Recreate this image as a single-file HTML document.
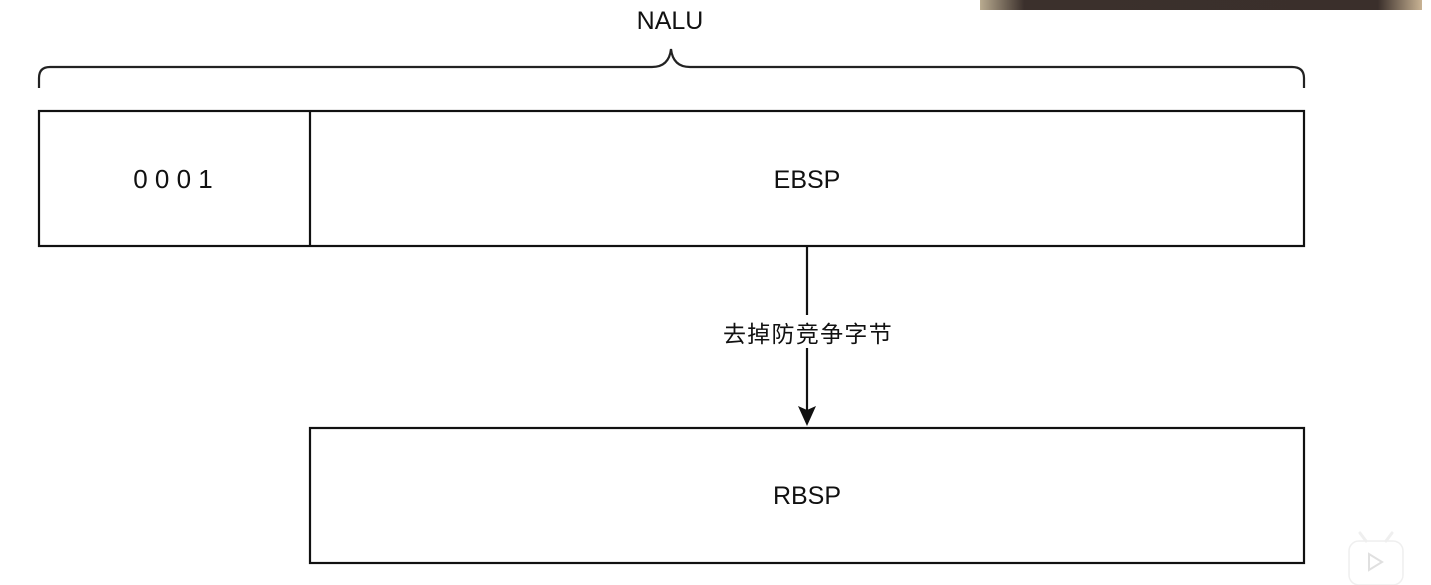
<!DOCTYPE html>
<html><head><meta charset="utf-8"><style>
html,body{margin:0;padding:0;background:#fff;width:1431px;height:585px;overflow:hidden}
svg text{font-family:"Liberation Sans","Noto Sans CJK SC",sans-serif;fill:#111}
</style></head><body>
<svg width="1431" height="585" viewBox="0 0 1431 585" xmlns="http://www.w3.org/2000/svg">
<defs>
<linearGradient id="g" x1="0" x2="1">
<stop offset="0" stop-color="#b9ab90"/><stop offset="0.1" stop-color="#3b302c"/><stop offset="0.9" stop-color="#3a2f2b"/><stop offset="1" stop-color="#c9b394"/>
</linearGradient>
</defs>
<rect x="980" y="0" width="442" height="10" fill="url(#g)"/>
<text x="670" y="29" font-size="25" text-anchor="middle">NALU</text>
<path d="M39,88 V78 Q39,67 50,67 H652 Q669,67 671,49 Q673,67 690,67 H1292 Q1304,67 1304,78 V88" fill="none" stroke="#222" stroke-width="2.2"/>
<rect x="39" y="111" width="1265" height="135" fill="none" stroke="#111" stroke-width="2.2"/>
<line x1="310" y1="111" x2="310" y2="246" stroke="#111" stroke-width="2.2"/>
<text x="173" y="188" font-size="26" text-anchor="middle">0 0 0 1</text>
<text x="807" y="188" font-size="25" text-anchor="middle">EBSP</text>
<line x1="807" y1="246" x2="807" y2="315" stroke="#111" stroke-width="2.2"/>
<line x1="807" y1="348" x2="807" y2="410" stroke="#111" stroke-width="2.2"/>
<path d="M798,406 L807,426 L816,406 L807,410 Z" fill="#111"/>
<text x="808" y="342" font-size="23" letter-spacing="1.3" text-anchor="middle">去掉防竞争字节</text>
<rect x="310" y="428" width="994" height="135" fill="none" stroke="#111" stroke-width="2.2"/>
<text x="807" y="504" font-size="25" text-anchor="middle">RBSP</text>
<g opacity="0.9">
<rect x="1349" y="541" width="54" height="44" rx="10" fill="#fff" stroke="#eee" stroke-width="1.5"/>
<path d="M1366,541 l-6,-8 M1386,541 l6,-8" stroke="#eee" stroke-width="3" stroke-linecap="round"/>
<path d="M1369,554 v16 l13,-8 z" fill="none" stroke="#ddd" stroke-width="2"/>
</g>
</svg>
</body></html>
